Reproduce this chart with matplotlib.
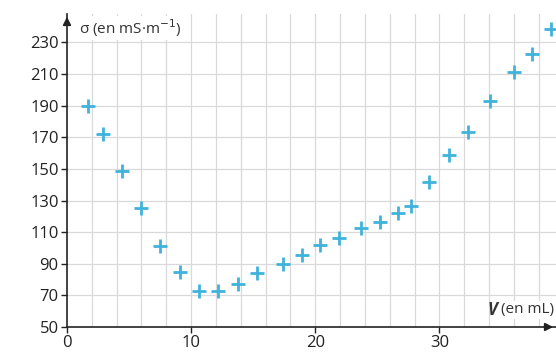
import matplotlib.pyplot as plt
import numpy as np

plt.rcParams['font.family'] = ['Open Sans', 'DejaVu Sans']

# volume versé (mL) et conductivité (mS/m)
volume = [1.7, 2.9, 4.4, 6.0, 7.5, 9.1, 10.6, 12.2, 13.8, 15.3, 17.4, 18.9,
          20.4, 21.9, 23.7, 25.2, 26.7, 27.7, 29.2, 30.8, 32.3, 34.1, 36.0,
          37.5, 39.0]
sigma = [190, 172, 149, 125, 101, 85, 73, 73, 77, 84, 90, 95.5,
         102, 106, 112.5, 116.5, 122, 126.5, 142, 159, 173.5, 193, 211,
         223, 238.5]
y_ticks = [50, 70, 90, 110, 130, 150, 170, 190, 210, 230]
x_ticks = [0, 10, 20, 30]

fig = plt.figure(figsize=(5.56, 3.54), dpi=100)
ax = fig.add_axes([67 / 556, 27 / 354, 489 / 556, 313 / 354])
ax.set_xlim(0, 39.4)
ax.set_ylim(50, 248)

# grid
for gx in np.arange(2, 40, 2):
    ax.axvline(gx, color='#d9d9d9', lw=0.9, zorder=0)
for gy in np.arange(70, 260, 20):
    ax.axhline(gy, color='#d9d9d9', lw=0.9, zorder=0)

ax.plot(volume, sigma, linestyle='none', marker='+', markersize=10,
        markeredgewidth=2, color='#40b3dc', zorder=3)

for side in ['top', 'right']:
    ax.spines[side].set_visible(False)
for side in ['left', 'bottom']:
    ax.spines[side].set_color('#222222')
    ax.spines[side].set_linewidth(1.2)

ax.set_xticks(x_ticks)
ax.set_yticks(y_ticks)
ax.tick_params(axis='both', labelsize=12, colors='#222222', length=4,
               width=1.0, pad=2)

# arrows on the axes
ax.annotate('', xy=(0, 1.0), xytext=(0, 0.97), xycoords='axes fraction',
            arrowprops=dict(arrowstyle='-|>', color='#222222', lw=1.2,
                            mutation_scale=12), annotation_clip=False)
ax.annotate('', xy=(1.0, 0), xytext=(0.97, 0), xycoords='axes fraction',
            arrowprops=dict(arrowstyle='-|>', color='#222222', lw=1.2,
                            mutation_scale=12), annotation_clip=False)

ax.text(0.025, 0.955, r'σ (en mS·m$^{-1}$)', transform=ax.transAxes,
        fontsize=11, color='#333333', va='center', ha='left',
        bbox=dict(facecolor='white', edgecolor='none', pad=1))
ax.text(0.995, 0.055, '(en mL)', transform=ax.transAxes,
        fontsize=11, color='#333333', va='center', ha='right',
        bbox=dict(facecolor='white', edgecolor='none', pad=1))
ax.text(0.88, 0.055, 'V', transform=ax.transAxes, fontsize=12,
        fontweight='bold', fontstyle='italic', color='#333333',
        va='center', ha='right')

fig.savefig('out.png', dpi=100)
